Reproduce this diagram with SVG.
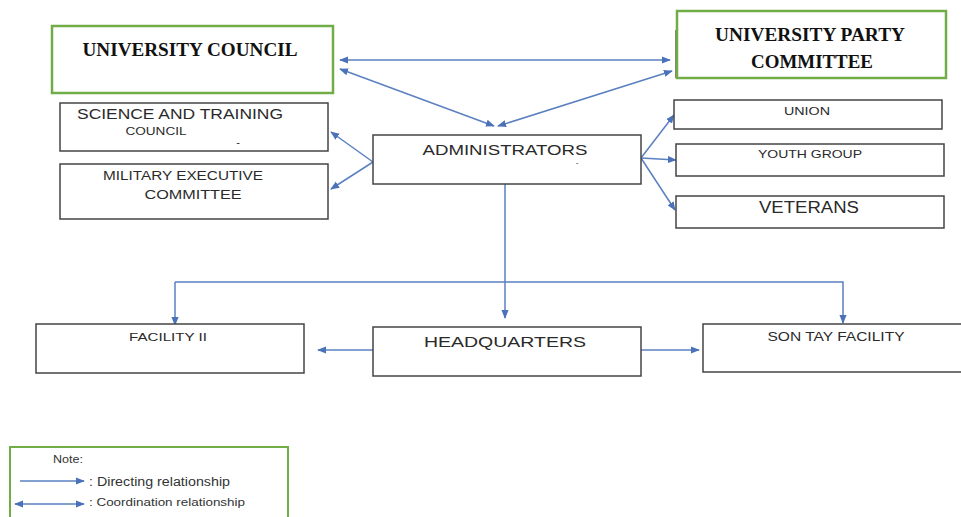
<svg xmlns="http://www.w3.org/2000/svg" width="961" height="517" viewBox="0 0 961 517">
<defs>
<marker id="ah" viewBox="0 0 10 10" refX="9" refY="5" markerWidth="9" markerHeight="9" markerUnits="userSpaceOnUse" orient="auto-start-reverse">
<path d="M0,1 L10,5 L0,9 z" fill="#4a72b8"/>
</marker>
<style>
.box{fill:#fff;stroke:#444;stroke-width:1.5}
.gbox{fill:#fff;stroke:#70ad47;stroke-width:2.5}
.c{fill:none;stroke:#5b80c0;stroke-width:1.5}
.t{font-family:"Liberation Sans",Arial,sans-serif;fill:#2a2a2a;text-anchor:middle}
.l{font-family:"Liberation Sans",Arial,sans-serif;fill:#333}
.s{font-family:"Liberation Serif","Times New Roman",serif;font-weight:bold;fill:#111;text-anchor:middle;font-size:19px}
</style>
</defs>
<rect width="961" height="517" fill="#fff"/>
<g id="connectors">
<line class="c" x1="340" y1="60" x2="670" y2="60" marker-start="url(#ah)" marker-end="url(#ah)"/>
<line class="c" x1="340" y1="69" x2="494" y2="126" marker-start="url(#ah)" marker-end="url(#ah)"/>
<line class="c" x1="672" y1="71" x2="498" y2="126" marker-start="url(#ah)" marker-end="url(#ah)"/>
<line class="c" x1="373" y1="162" x2="331" y2="132" marker-end="url(#ah)"/>
<line class="c" x1="373" y1="162" x2="331" y2="189" marker-end="url(#ah)"/>
<line class="c" x1="641" y1="158" x2="674" y2="115" marker-end="url(#ah)"/>
<line class="c" x1="641" y1="158" x2="676" y2="160" marker-end="url(#ah)"/>
<line class="c" x1="641" y1="158" x2="675" y2="210" marker-end="url(#ah)"/>
<line class="c" x1="505" y1="184" x2="505" y2="318" marker-end="url(#ah)"/>
<polyline class="c" points="175,282 843,282 843,323" marker-end="url(#ah)"/>
<line class="c" x1="175" y1="282" x2="175" y2="325" marker-end="url(#ah)"/>
<line class="c" x1="373" y1="350" x2="318" y2="350" marker-end="url(#ah)"/>
<line class="c" x1="641" y1="350" x2="699" y2="350" marker-end="url(#ah)"/>
</g>
<g id="university-council">
<rect class="gbox" x="52" y="26" width="281" height="67"/>
<text class="s" x="190" y="56" textLength="215" lengthAdjust="spacingAndGlyphs">UNIVERSITY COUNCIL</text>
</g>
<g id="university-party-committee">
<line x1="676" y1="30" x2="676" y2="78" stroke="#555" stroke-width="1.5"/>
<rect class="gbox" x="677" y="11" width="269" height="67"/>
<text class="s" x="810" y="41" textLength="190" lengthAdjust="spacingAndGlyphs">UNIVERSITY PARTY</text>
<text class="s" x="812" y="68" textLength="122" lengthAdjust="spacingAndGlyphs">COMMITTEE</text>
</g>
<g id="science-training-council">
<rect class="box" x="60" y="103" width="268" height="48"/>
<text class="t" x="180" y="119" font-size="14" textLength="206" lengthAdjust="spacingAndGlyphs">SCIENCE AND TRAINING</text>
<text class="t" x="156" y="135" font-size="10" textLength="61" lengthAdjust="spacingAndGlyphs">COUNCIL</text>
<text class="t" x="238" y="146" font-size="11">-</text>
</g>
<g id="military-executive-committee">
<rect class="box" x="60" y="164" width="268" height="55"/>
<text class="t" x="183" y="180" font-size="12.5" textLength="160" lengthAdjust="spacingAndGlyphs">MILITARY EXECUTIVE</text>
<text class="t" x="193" y="199" font-size="12.5" textLength="97" lengthAdjust="spacingAndGlyphs">COMMITTEE</text>
</g>
<g id="administrators">
<rect class="box" x="373" y="135" width="268" height="49"/>
<text class="t" x="505" y="155" font-size="14.5" textLength="165" lengthAdjust="spacingAndGlyphs">ADMINISTRATORS</text>
<text class="t" x="577" y="165" font-size="8">-</text>
</g>
<g id="union">
<rect class="box" x="674" y="100" width="268" height="29"/>
<text class="t" x="807" y="115" font-size="11.5" textLength="46" lengthAdjust="spacingAndGlyphs">UNION</text>
</g>
<g id="youth-group">
<rect class="box" x="676" y="144" width="268" height="32"/>
<text class="t" x="810" y="158" font-size="11.5" textLength="104" lengthAdjust="spacingAndGlyphs">YOUTH GROUP</text>
</g>
<g id="veterans">
<rect class="box" x="676" y="196" width="268" height="32"/>
<text class="t" x="809" y="213" font-size="16" textLength="100" lengthAdjust="spacingAndGlyphs">VETERANS</text>
</g>
<g id="facility-ii">
<rect class="box" x="36" y="324" width="268" height="49"/>
<text class="t" x="168" y="341" font-size="11.5" textLength="78" lengthAdjust="spacingAndGlyphs">FACILITY II</text>
</g>
<g id="headquarters">
<rect class="box" x="373" y="327" width="268" height="49"/>
<text class="t" x="505" y="347" font-size="15.5" textLength="162" lengthAdjust="spacingAndGlyphs">HEADQUARTERS</text>
</g>
<g id="son-tay-facility">
<rect class="box" x="703" y="324" width="262" height="48"/>
<text class="t" x="836" y="341" font-size="12" textLength="137" lengthAdjust="spacingAndGlyphs">SON TAY FACILITY</text>
</g>
<g id="legend">
<rect x="10" y="447" width="278" height="80" fill="#fff" stroke="#70ad47" stroke-width="2"/>
<text class="l" x="53" y="463" font-size="10" textLength="30" lengthAdjust="spacingAndGlyphs">Note:</text>
<line class="c" x1="20" y1="481" x2="84" y2="481" marker-end="url(#ah)"/>
<text class="l" x="89" y="486" font-size="12" textLength="141" lengthAdjust="spacingAndGlyphs">: Directing relationship</text>
<line class="c" x1="15" y1="504" x2="84" y2="504" marker-start="url(#ah)" marker-end="url(#ah)"/>
<text class="l" x="89" y="506" font-size="11" textLength="156" lengthAdjust="spacingAndGlyphs">: Coordination relationship</text>
</g>
</svg>
